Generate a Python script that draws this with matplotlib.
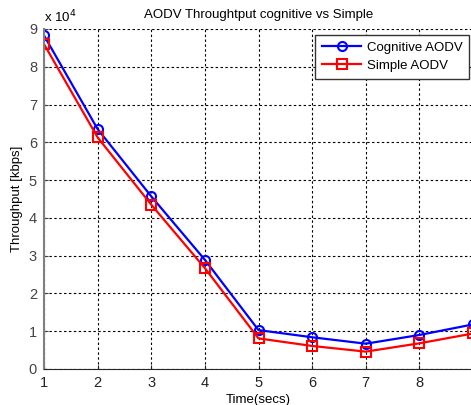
import matplotlib.pyplot as plt

plt.rcParams['font.family'] = ['Liberation Sans', 'DejaVu Sans']

time_secs = [1, 2, 3, 4, 5, 6, 7, 8, 9]
# throughput in kbps
cognitive = [88300, 63500, 45700, 28900, 10300, 8400, 6700, 9000, 11800]
simple = [86000, 61300, 43500, 26700, 8100, 6100, 4600, 6800, 9400]
xticks = [1, 2, 3, 4, 5, 6, 7, 8, 9]
yticks = [0, 1, 2, 3, 4, 5, 6, 7, 8, 9]
scale = 1e4

fig = plt.figure(figsize=(4.71, 4.05), dpi=100)
ax = fig.add_axes([44/471, 36/405, 429/471, 340/405])

ax.plot(time_secs, [v/scale for v in cognitive], color='blue', lw=1.6,
        marker='o', ms=6.5, mfc='none', mew=1.5, label='Cognitive AODV')
ax.plot(time_secs, [v/scale for v in simple], color='red', lw=1.6,
        marker='s', ms=7.5, mfc='none', mew=1.5, label='Simple AODV')

ax.set_xlim(1, 9)
ax.set_ylim(0, 9)
ax.set_xticks(xticks)
ax.set_yticks(yticks)
ax.set_xticklabels([str(t) if t < 9 else '' for t in xticks])
ax.grid(True, color='black', linestyle=(0, (2.2, 2.2)), lw=0.8)
ax.tick_params(direction='in', length=3, labelsize=10.5, colors='#222222', pad=5)
ax.tick_params(axis='y', colors='#444444')

ax.spines['left'].set_color('#808080')
ax.spines['left'].set_linewidth(1.5)
ax.spines['bottom'].set_color('#262626')
ax.spines['top'].set_visible(False)
ax.spines['right'].set_visible(False)

ax.set_title('AODV Throughtput cognitive vs Simple', fontsize=9.5, pad=8)
ax.set_xlabel('Time(secs)', fontsize=9.5, labelpad=3)
ax.set_ylabel('Throughput [kbps]', fontsize=9.5, labelpad=4)
ax.text(0.0, 1.01, r'x 10$^{4}$', transform=ax.transAxes, fontsize=9.5,
        ha='left', va='bottom')

leg = ax.legend(loc='upper right', bbox_to_anchor=(469/471, 1 - 35/405),
                bbox_transform=fig.transFigure, fontsize=9.5, fancybox=False,
                framealpha=1, edgecolor='#333333', handlelength=3.0,
                borderpad=0.5, labelspacing=0.45, handletextpad=0.4,
                borderaxespad=0.0)
leg.get_frame().set_linewidth(1.0)

fig.savefig('out.png', dpi=100)
